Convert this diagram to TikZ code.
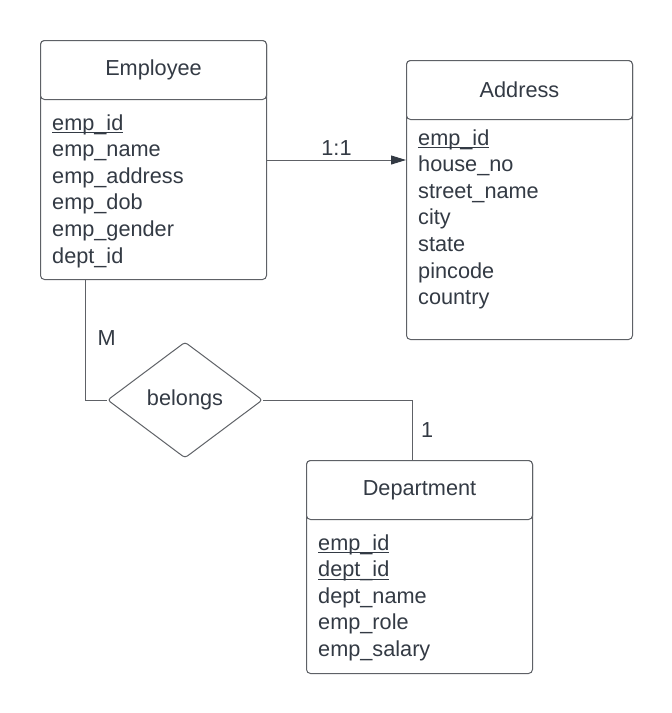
\documentclass[tikz,border=0pt]{standalone}
\usepackage{fontspec}
\setmainfont{Liberation Sans}
\definecolor{linecolor}{HTML}{5E6166}
\definecolor{lettercolor}{HTML}{333A44}
\usetikzlibrary{arrows.meta,shapes.geometric,positioning}
\tikzset{
	entity/.style={
		rectangle,
		rounded corners=4pt,
		draw=linecolor,
		line width=1pt,
		fill=white,
		minimum width=226pt,
		inner sep=0pt
	},
	header/.style={
		entity,
		minimum height=59pt,
		text=lettercolor
	},
	attr/.style={
		anchor=base west,
		inner sep=0pt,
		text=lettercolor
	},
	relation/.style={
		diamond,
		rounded corners=3pt,
		draw=linecolor,
		line width=1pt,
		fill=white,
		minimum width=155pt,
		minimum height=116pt,
		inner sep=0pt,
		text=lettercolor
	},
	link/.style={
		draw=linecolor,
		line width=1pt
	},
	arrow/.style={
		link,
		-{Triangle[length=15pt,width=9pt,color=lettercolor]}
	},
	card/.style={
		text=lettercolor,
		inner sep=4pt
	}
}
% key attribute: underline through the underscore
\newcommand{\pk}[1]{\setbox0\hbox{#1}\rlap{\rule[-3.4pt]{\wd0}{1.1pt}}\box0}

\begin{document}
\begin{tikzpicture}[x=1pt,y=-1pt,font=\fontsize{21.7}{26}\selectfont]
\useasboundingbox (0,0) rectangle (672,713);

% Employee
\node [entity,minimum height=239pt,anchor=north west] (empbox) at (40,40) {};
\node [header,anchor=north] (emp) at (empbox.north) {Employee};
\foreach \t [count=\i] in {{\pk{emp\_id}},emp\_name,emp\_address,emp\_dob,emp\_gender,dept\_id}
	\node [attr] (emp\i) at ([xshift=12pt,yshift={-30-(\i-1)*26.6}]emp.south west) {\t};

% Address
\node [entity,minimum height=279pt,anchor=north west] (addrbox) at (406,60) {};
\node [header,anchor=north] (addr) at (addrbox.north) {Address};
\foreach \t [count=\i] in {{\pk{emp\_id}},house\_no,street\_name,city,state,pincode,country}
	\node [attr] (addr\i) at ([xshift=12pt,yshift={-25-(\i-1)*26.6}]addr.south west) {\t};

% Department
\node [entity,minimum height=213pt,anchor=north west] (deptbox) at (306,460) {};
\node [header,anchor=north] (dept) at (deptbox.north) {Department};
\foreach \t [count=\i] in {{\pk{emp\_id}},{\pk{dept\_id}},dept\_name,emp\_role,emp\_salary}
	\node [attr] (dept\i) at ([xshift=12pt,yshift={-30-(\i-1)*26.6}]dept.south west) {\t};

% relationship
\node [relation] (belongs) at (185,400) {belongs};

\draw [arrow] (empbox.east) -- (empbox.east -| addrbox.west)
	node [card,midway,above] {1:1};
\draw [link] ([xshift=45pt]empbox.south west) |- (belongs.west)
	node [card,pos=0.24,right,xshift=8pt] {M};
\draw [link] (belongs.east) -| ([xshift=-7pt]deptbox.north)
	node [card,pos=0.75,right,xshift=4pt] {1};
\end{tikzpicture}
\end{document}
